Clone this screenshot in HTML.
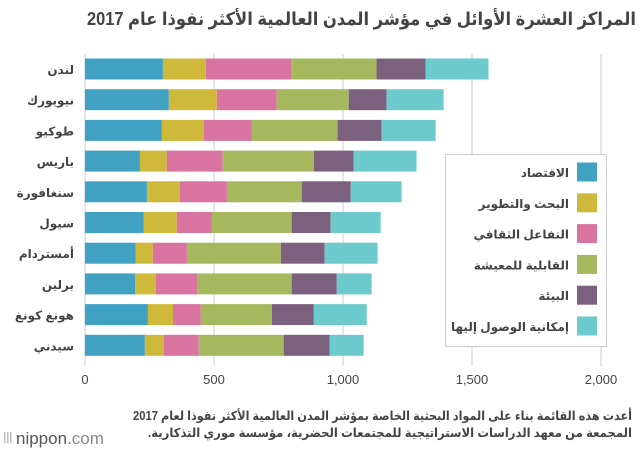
<!DOCTYPE html>
<html><head><meta charset="utf-8">
<style>
body{margin:0;background:#fff;width:640px;height:450px;overflow:hidden;font-family:"Liberation Sans","Noto Sans CJK SC",sans-serif}
svg text{font-family:"Liberation Sans","DejaVu Sans","Noto Sans CJK SC",sans-serif}
</style></head><body>
<svg id="chart" width="640" height="450" xmlns="http://www.w3.org/2000/svg">
<text x="636" y="25" text-anchor="end" font-size="18" font-weight="bold" fill="#444" textLength="549" lengthAdjust="spacingAndGlyphs">المراكز العشرة الأوائل في مؤشر المدن العالمية الأكثر نفوذا عام 2017</text>
<g id="grid"></g><g id="bars"></g><g id="legend"></g>
<text x="632" y="420" text-anchor="end" font-size="12.5" font-weight="bold" fill="#444" textLength="499" lengthAdjust="spacingAndGlyphs">أعدت هذه القائمة بناء على المواد البحثية الخاصة بمؤشر المدن العالمية الأكثر نفوذا لعام 2017</text>
<text x="632" y="437" text-anchor="end" font-size="12.5" font-weight="bold" fill="#444" textLength="484" lengthAdjust="spacingAndGlyphs">المجمعة من معهد الدراسات الاستراتيجية للمجتمعات الحضرية، مؤسسة موري التذكارية.&#x200F;</text>
<g>
<rect x="4" y="432" width="1.5" height="11" fill="#bbb"/><rect x="7" y="432" width="1.5" height="11" fill="#bbb"/><rect x="10" y="432" width="1.5" height="11" fill="#bbb"/>
<text x="16" y="444" font-size="17" fill="#555">nippon<tspan fill="#e8382f">.</tspan><tspan fill="#888">com</tspan></text>
</g>
</svg>
<script>
const cities=["لندن","نيويورك","طوكيو","باريس","سنغافورة","سيول","أمستردام","برلين","هونغ كونغ","سيدني"];
const seriesNames=["الاقتصاد","البحث والتطوير","التفاعل الثقافي","القابلية للمعيشة","البيئة","إمكانية الوصول إليها"];
const economy=[302,325,298,213,240,228,197,194,244,232];
const research=[166,186,163,104,128,128,66,81,97,74];
const cultural=[333,232,186,217,182,136,132,159,108,135];
const livability=[329,279,332,353,290,309,364,367,275,329];
const environment=[190,147,171,154,190,151,170,175,163,178];
const accessibility=[244,221,209,244,197,194,205,135,205,132];
const ticks=[0,500,1000,1500,2000];
const tickLabels=["0","500","1,000","1,500","2,000"];
const colors=["#41a1c3","#cfb93b","#d974a1","#a6b85e","#7b617e","#6ccacc"];
const series=[economy,research,cultural,livability,environment,accessibility];
const NS="http://www.w3.org/2000/svg";
const x=v=>85+v*(516/2000);
const rowY=i=>69+i*30.7;
const BH=21;
function mk(tag,attrs,parent){const e=document.createElementNS(NS,tag);for(const k in attrs)e.setAttribute(k,attrs[k]);parent.appendChild(e);return e;}
const grid=document.getElementById('grid'),bars=document.getElementById('bars'),legend=document.getElementById('legend');
ticks.forEach((t,i)=>{
 const l=mk('line',{x1:x(t),x2:x(t),y1:54,y2:366,stroke:'#ccc','stroke-width':1},grid);
 
 
 const tx=mk('text',{x:x(t),y:384,'text-anchor':'middle','font-size':13,fill:'#444'},grid);
 tx.textContent=tickLabels[i];
 
 
});
cities.forEach((c,i)=>{
 const tx=mk('text',{x:74,y:rowY(i)+5,'text-anchor':'end','font-size':12,'font-weight':'bold',fill:'#444'},bars);
 tx.textContent=c;
 
 
 let cum=0;
 series.forEach((s,j)=>{
  const r=mk('rect',{x:x(cum),y:rowY(i)-BH/2,width:x(cum+s[i])-x(cum),height:BH,fill:colors[j]},bars);
  
  
  cum+=s[i];
 });
});
const box=mk('rect',{x:445.5,y:154.5,width:161,height:192,fill:'#fff',stroke:'#ccc'},legend);


seriesNames.forEach((n,j)=>{
 const cy=172+j*30.8;
 const sw=mk('rect',{x:577,y:cy-9.5,width:20,height:19,fill:colors[j]},legend);
 
 
 const t=mk('text',{x:569,y:cy+5,'text-anchor':'end','font-size':12,'font-weight':'bold',fill:'#444'},legend);
 t.textContent=n;
 
 
});
</script>
</body></html>
